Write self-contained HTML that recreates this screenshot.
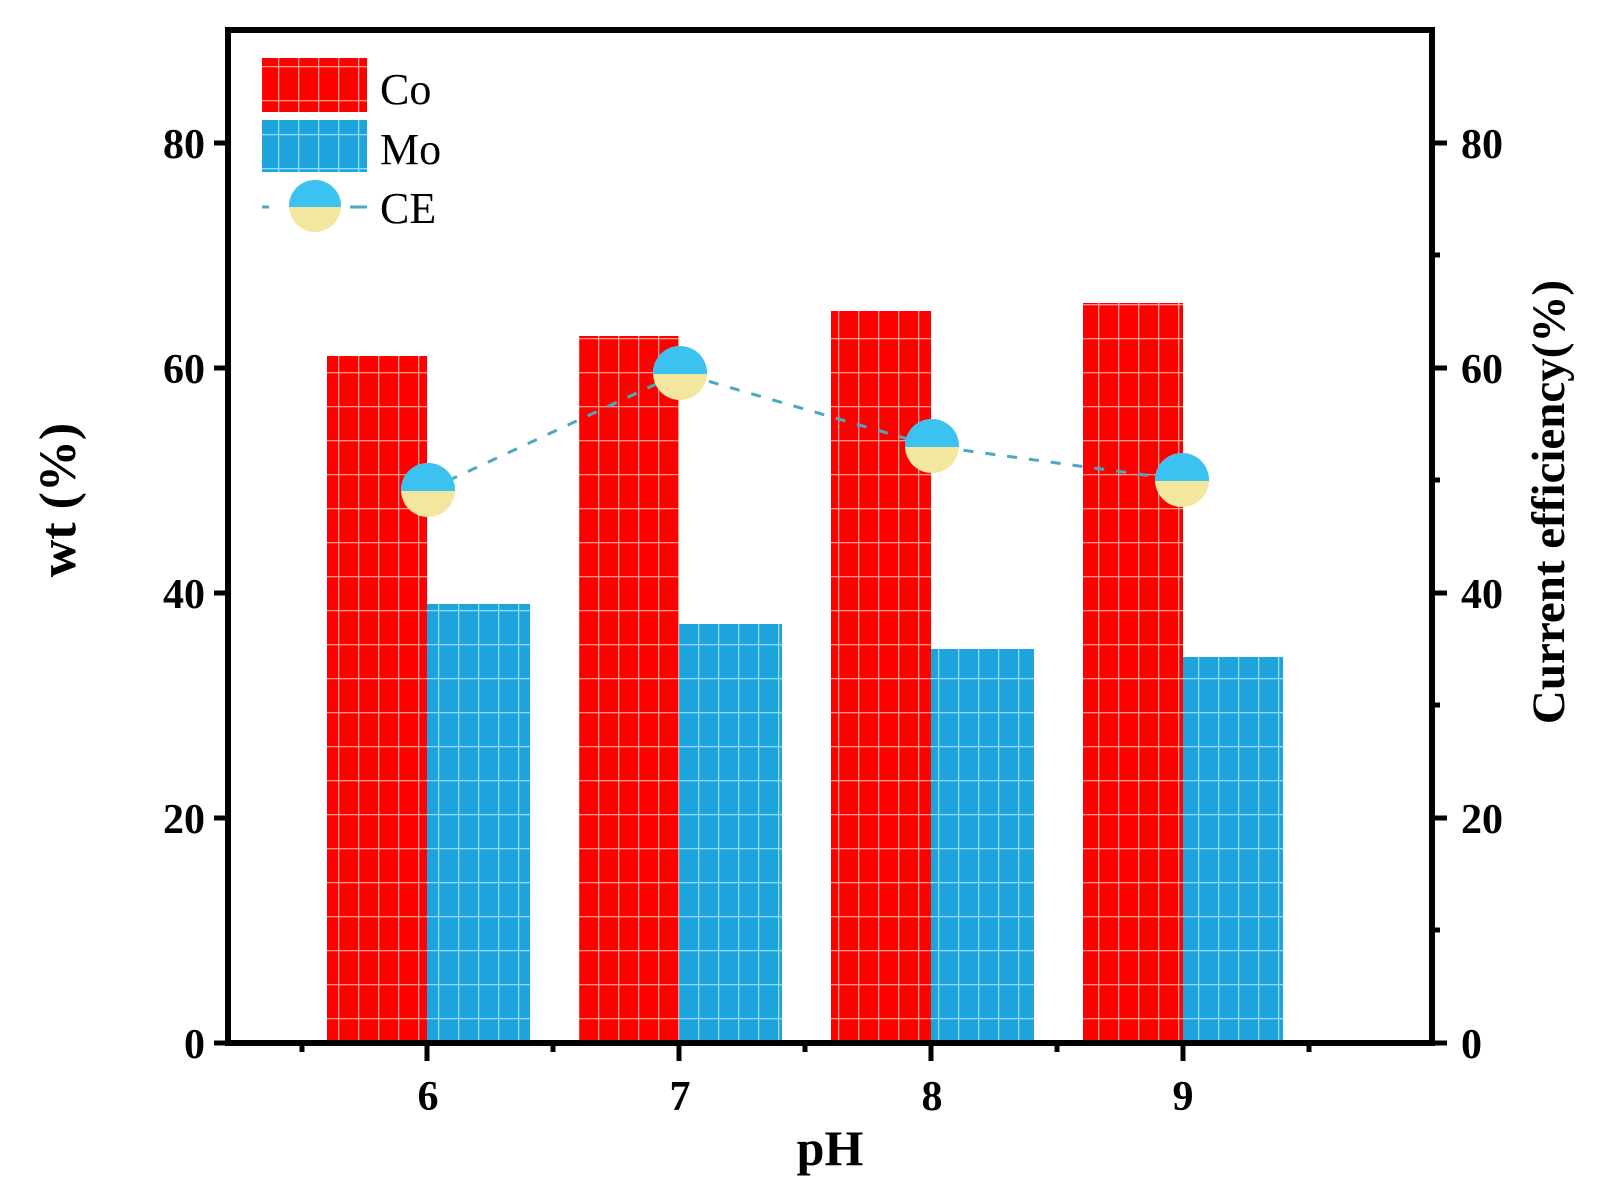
<!DOCTYPE html>
<html><head><meta charset="utf-8"><style>html,body{margin:0;padding:0;background:#fff}svg{display:block}</style></head><body>
<svg width="1601" height="1187" viewBox="0 0 1601 1187" xmlns="http://www.w3.org/2000/svg" font-family="'Liberation Serif', serif">
<defs>
<pattern id="pc" width="20" height="34" patternUnits="userSpaceOnUse">
<rect width="20" height="34" fill="#fe0000"/>
<rect x="18" width="1.3" height="34" fill="#ff9a8a"/>
<rect y="32" width="20" height="1.3" fill="#ff9a8a"/>
</pattern>
<pattern id="pm" width="20" height="34" patternUnits="userSpaceOnUse">
<rect width="20" height="34" fill="#1ea4dd"/>
<rect x="18" width="1.3" height="34" fill="#8fdcf8"/>
<rect y="32" width="20" height="1.3" fill="#8fdcf8"/>
</pattern>
<clipPath id="top"><rect x="-40" y="-40" width="80" height="41"/></clipPath>
</defs>
<g>
<rect x="327" y="356" width="100" height="687" fill="url(#pc)"/>
<rect x="427" y="604" width="103" height="439" fill="url(#pm)"/>
<rect x="579" y="336" width="100" height="707" fill="url(#pc)"/>
<rect x="679" y="624" width="103" height="419" fill="url(#pm)"/>
<rect x="831" y="311" width="100" height="732" fill="url(#pc)"/>
<rect x="931" y="649" width="103" height="394" fill="url(#pm)"/>
<rect x="1083" y="303" width="100" height="740" fill="url(#pc)"/>
<rect x="1183" y="657" width="100" height="386" fill="url(#pm)"/>
</g>
<polyline points="428,490 680,373 932,446 1182,480" fill="none" stroke="#4aa8c0" stroke-width="3" stroke-dasharray="10,12"/>
<g>
<g transform="translate(428,490)"><circle r="27" fill="#f3e7a0"/><circle r="27" fill="#3cc2f0" clip-path="url(#top)"/></g>
<g transform="translate(680,373)"><circle r="27" fill="#f3e7a0"/><circle r="27" fill="#3cc2f0" clip-path="url(#top)"/></g>
<g transform="translate(932,446)"><circle r="27" fill="#f3e7a0"/><circle r="27" fill="#3cc2f0" clip-path="url(#top)"/></g>
<g transform="translate(1182,480)"><circle r="27" fill="#f3e7a0"/><circle r="27" fill="#3cc2f0" clip-path="url(#top)"/></g>
</g>
<rect x="228" y="30" width="1204" height="1013" fill="none" stroke="#000" stroke-width="6"/>
<g stroke="#000" stroke-width="5">
<line x1="214" y1="1043" x2="228" y2="1043"/><line x1="214" y1="818" x2="228" y2="818"/><line x1="214" y1="593" x2="228" y2="593"/><line x1="214" y1="368" x2="228" y2="368"/><line x1="214" y1="143" x2="228" y2="143"/>
<line x1="1432" y1="1043" x2="1447" y2="1043"/><line x1="1432" y1="818" x2="1447" y2="818"/><line x1="1432" y1="593" x2="1447" y2="593"/><line x1="1432" y1="368" x2="1447" y2="368"/><line x1="1432" y1="143" x2="1447" y2="143"/>
<line x1="1432" y1="930" x2="1440" y2="930"/><line x1="1432" y1="705" x2="1440" y2="705"/><line x1="1432" y1="480" x2="1440" y2="480"/><line x1="1432" y1="255" x2="1440" y2="255"/>
<line x1="427" y1="1043" x2="427" y2="1061"/><line x1="679" y1="1043" x2="679" y2="1061"/><line x1="931" y1="1043" x2="931" y2="1061"/><line x1="1183" y1="1043" x2="1183" y2="1061"/>
<line x1="302" y1="1043" x2="302" y2="1052"/><line x1="553" y1="1043" x2="553" y2="1052"/><line x1="805" y1="1043" x2="805" y2="1052"/><line x1="1057" y1="1043" x2="1057" y2="1052"/><line x1="1309" y1="1043" x2="1309" y2="1052"/>
</g>
<g font-weight="bold" font-size="42" fill="#000">
<g text-anchor="end">
<text x="205" y="1058">0</text><text x="205" y="833">20</text><text x="205" y="608">40</text><text x="205" y="383">60</text><text x="205" y="158">80</text>
</g>
<g text-anchor="start">
<text x="1461" y="1058">0</text><text x="1461" y="833">20</text><text x="1461" y="608">40</text><text x="1461" y="383">60</text><text x="1461" y="158">80</text>
</g>
<g text-anchor="middle">
<text x="428" y="1110">6</text><text x="680" y="1110">7</text><text x="932" y="1110">8</text><text x="1183" y="1110">9</text>
<text x="830" y="1165" font-size="50">pH</text>
<text transform="translate(75,500) rotate(-90)" font-size="52">wt (%)</text>
<text transform="translate(1564,502) rotate(-90)" font-size="47">Current efficiency(%)</text>
</g>
</g>
<rect x="262" y="58" width="105" height="54" fill="url(#pc)"/>
<rect x="262" y="120" width="105" height="52" fill="url(#pm)"/>
<line x1="262" y1="207" x2="280" y2="207" stroke="#4aa8c0" stroke-width="3" stroke-dasharray="7,20"/>
<line x1="350" y1="207" x2="367" y2="207" stroke="#4aa8c0" stroke-width="3"/>
<g transform="translate(315,206)"><circle r="26" fill="#f3e7a0"/><circle r="26" fill="#3cc2f0" clip-path="url(#top)"/></g>
<g font-size="44" fill="#000">
<text x="380" y="104">Co</text><text x="380" y="164">Mo</text><text x="380" y="223">CE</text>
</g>
</svg>
</body></html>
